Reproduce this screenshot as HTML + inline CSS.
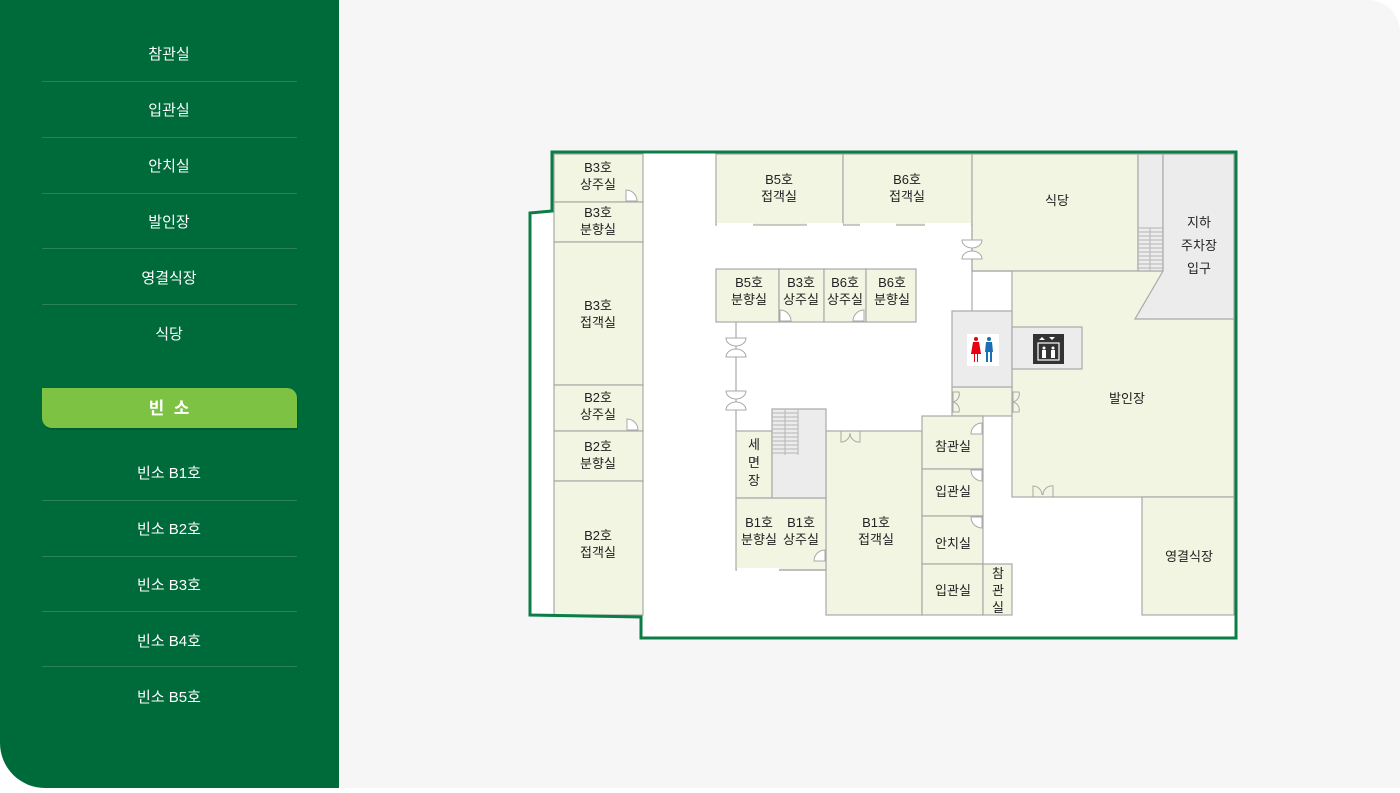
<!DOCTYPE html>
<html><head><meta charset="utf-8">
<style>
html,body{margin:0;padding:0;background:#fff;}
body{width:1400px;height:788px;overflow:hidden;position:relative;font-family:"Liberation Sans","Noto Sans CJK KR",sans-serif;}
svg text{font-family:"Liberation Sans","Noto Sans CJK KR",sans-serif;}
</style></head><body>
<svg width="1400" height="788" viewBox="0 0 1400 788" xmlns="http://www.w3.org/2000/svg">
<rect x="0" y="0" width="1400" height="788" fill="#fff"/>
<path d="M300 0 H1368 A32 32 0 0 1 1400 32 V788 H300 Z" fill="#f6f6f6"/>
<path d="M0 0 H339 V788 H45 A45 45 0 0 1 0 743 Z" fill="#006b3a"/>
<g fill="#fff" font-size="15" text-anchor="middle">
<text x="169" y="59">참관실</text>
<text x="169" y="115">입관실</text>
<text x="169" y="171">안치실</text>
<text x="169" y="227">발인장</text>
<text x="169" y="283">영결식장</text>
<text x="169" y="339">식당</text>
<text x="169" y="478">빈소 B1호</text>
<text x="169" y="534">빈소 B2호</text>
<text x="169" y="590">빈소 B3호</text>
<text x="169" y="646">빈소 B4호</text>
<text x="169" y="702">빈소 B5호</text>
</g>
<g stroke="#2a8256" stroke-width="1">
<line x1="42" y1="81.5" x2="297" y2="81.5"/><line x1="42" y1="137.5" x2="297" y2="137.5"/>
<line x1="42" y1="193.5" x2="297" y2="193.5"/><line x1="42" y1="248.5" x2="297" y2="248.5"/>
<line x1="42" y1="304.5" x2="297" y2="304.5"/>
<line x1="42" y1="500.5" x2="297" y2="500.5"/><line x1="42" y1="556.5" x2="297" y2="556.5"/>
<line x1="42" y1="611.5" x2="297" y2="611.5"/><line x1="42" y1="666.5" x2="297" y2="666.5"/>
</g>
<path d="M43 390 H288 A10 10 0 0 1 298 400 V430 H53 A10 10 0 0 1 43 420 Z" fill="#00461f" opacity="0.4"/>
<path d="M42 388 H287 A10 10 0 0 1 297 398 V428 H52 A10 10 0 0 1 42 418 Z" fill="#7dc242"/>
<text x="169" y="414" fill="#fff" font-size="17" font-weight="bold" text-anchor="middle">빈 &#160;소</text>

<path d="M552 152 H1236 V638 H641 V617 L530 615 V213 L552 211 Z" fill="#fff"/>
<g fill="#f1f5e1" stroke="#a9a9a9" stroke-width="1.2">
<rect x="554" y="154" width="89" height="48"/>
<rect x="554" y="202" width="89" height="40"/>
<rect x="554" y="242" width="89" height="143"/>
<rect x="554" y="385" width="89" height="46"/>
<rect x="554" y="431" width="89" height="50"/>
<rect x="554" y="481" width="89" height="134"/>
<rect x="716" y="154" width="127" height="71"/>
<rect x="843" y="154" width="129" height="71"/>
<rect x="972" y="154" width="166" height="117"/>
<rect x="716" y="269" width="63" height="53"/>
<rect x="779" y="269" width="45" height="53"/>
<rect x="824" y="269" width="42" height="53"/>
<rect x="866" y="269" width="50" height="53"/>
<rect x="1012" y="271" width="222" height="226"/>
<rect x="952" y="387" width="60" height="29"/>
<rect x="1142" y="497" width="92" height="118"/>
<rect x="826" y="431" width="96" height="184"/>
<rect x="922" y="416" width="61" height="53"/>
<rect x="922" y="469" width="61" height="47"/>
<rect x="922" y="516" width="61" height="48"/>
<rect x="922" y="564" width="61" height="51"/>
<rect x="983" y="564" width="29" height="51"/>
<rect x="736" y="431" width="36" height="67"/>
<path d="M736 570 V498 H826 V570 Z"/>
</g>
<g fill="#ececec" stroke="#a9a9a9" stroke-width="1.2">
<rect x="1138" y="154" width="25" height="117"/>
<path d="M1163 154 H1234 V319 H1135 L1163 271 Z"/>
<rect x="952" y="311" width="60" height="76"/>
<rect x="1012" y="327" width="70" height="42"/>
<rect x="772" y="409" width="54" height="89"/>
</g>
<g fill="#fff">
<rect x="717" y="223" width="36" height="4"/><rect x="807" y="223" width="36" height="4"/><rect x="860" y="223" width="36" height="4"/><rect x="925" y="223" width="46" height="4"/>
<rect x="737" y="568" width="42" height="4"/>
</g>
<g stroke="#b5b5b5" stroke-width="1">
<line x1="1138" y1="228" x2="1163" y2="228"/><line x1="1138" y1="232" x2="1163" y2="232"/><line x1="1138" y1="236" x2="1163" y2="236"/><line x1="1138" y1="240" x2="1163" y2="240"/><line x1="1138" y1="244" x2="1163" y2="244"/><line x1="1138" y1="248" x2="1163" y2="248"/><line x1="1138" y1="252" x2="1163" y2="252"/><line x1="1138" y1="256" x2="1163" y2="256"/><line x1="1138" y1="260" x2="1163" y2="260"/><line x1="1138" y1="264" x2="1163" y2="264"/><line x1="1138" y1="268" x2="1163" y2="268"/>
<line x1="1150" y1="228" x2="1150" y2="271"/>
<line x1="772" y1="413" x2="798" y2="413"/><line x1="772" y1="417" x2="798" y2="417"/><line x1="772" y1="421" x2="798" y2="421"/><line x1="772" y1="425" x2="798" y2="425"/><line x1="772" y1="429" x2="798" y2="429"/><line x1="772" y1="433" x2="798" y2="433"/><line x1="772" y1="437" x2="798" y2="437"/><line x1="772" y1="441" x2="798" y2="441"/><line x1="772" y1="445" x2="798" y2="445"/><line x1="772" y1="449" x2="798" y2="449"/><line x1="772" y1="453" x2="798" y2="453"/>
<line x1="785" y1="409" x2="785" y2="455"/>
<line x1="798" y1="409" x2="798" y2="455"/>
</g>
<g stroke="#a9a9a9" stroke-width="1.2" fill="none">
<line x1="736" y1="322" x2="736" y2="431"/>
<line x1="972" y1="225" x2="972" y2="311"/>
<line x1="972" y1="271" x2="1012" y2="271"/>
<line x1="779" y1="570" x2="826" y2="570"/>
</g>
<g fill="#fff" stroke="#a9a9a9" stroke-width="1">
<path d="M626 201 V190 A11 11 0 0 1 637 201 Z"/>
<path d="M627 430 V419 A11 11 0 0 1 638 430 Z"/>
<path d="M780 321 V310 A11 11 0 0 1 791 321 Z"/>
<path d="M864 321 V310 A11 11 0 0 0 853 321 Z"/>
<path d="M825 561 V550 A11 11 0 0 0 814 561 Z"/>
<path d="M982 434 V423 A11 11 0 0 0 971 434 Z"/>
<path d="M982 470 V481 A11 11 0 0 1 971 470 Z"/>
<path d="M982 517 V528 A11 11 0 0 1 971 517 Z"/>
<path d="M726 338 A10 8 0 0 0 746 338 Z M726 357 A10 8 0 0 1 746 357 Z"/>
<path d="M726 391 A10 8 0 0 0 746 391 Z M726 410 A10 8 0 0 1 746 410 Z"/>
<path d="M962 240 A10 8 0 0 0 982 240 Z M962 259 A10 8 0 0 1 982 259 Z"/>
<path d="M953 392 H959 A8 8 0 0 1 953 402 Z M953 412 H959 A8 8 0 0 0 953 402 Z" fill="none"/>
<path d="M1013 392 H1019 A8 8 0 0 1 1013 402 Z M1013 412 H1019 A8 8 0 0 0 1013 402 Z" fill="none"/>
<path d="M841 431 V442 A9 9 0 0 0 850 433 M860 431 V442 A9 9 0 0 1 850 433" fill="none"/>
<path d="M1033 497 V486 A9 9 0 0 1 1042 495 M1053 497 V486 A9 9 0 0 0 1043 495" fill="none"/>
</g>
<rect x="967" y="334" width="32" height="32" fill="#fff"/>
<g fill="#e60012"><circle cx="976" cy="339" r="2"/><path d="M973 342 H979 L981 354 H978 V362 H977 V354 H975 V362 H974 V354 H971 Z"/></g>
<g fill="#1c6fb5"><circle cx="989" cy="339" r="2"/><path d="M986 342 H992 L993 352 H992 V362 H990 V352 H988 V362 H986 V352 H985 Z"/></g>
<rect x="1033" y="334" width="31" height="30" fill="#333"/>
<rect x="1038" y="343" width="21" height="17" fill="none" stroke="#fff" stroke-width="1.2"/>
<g fill="#fff"><path d="M1042 337 L1045 340 H1039 Z"/><path d="M1052 340 L1055 337 H1049 Z"/><circle cx="1044" cy="348" r="1.5"/><rect x="1042" y="350" width="4" height="8"/><circle cx="1053" cy="348" r="1.5"/><rect x="1051" y="350" width="4" height="8"/></g>
<path d="M552 152 H1236 V638 H641 V617 L530 615 V213 L552 211 Z" fill="none" stroke="#0b7d46" stroke-width="3"/>
<g fill="#222" font-size="13" text-anchor="middle">
<text x="598" y="172">B3호</text><text x="598" y="189">상주실</text>
<text x="598" y="217">B3호</text><text x="598" y="234">분향실</text>
<text x="598" y="310">B3호</text><text x="598" y="327">접객실</text>
<text x="598" y="402">B2호</text><text x="598" y="419">상주실</text>
<text x="598" y="451">B2호</text><text x="598" y="468">분향실</text>
<text x="598" y="540">B2호</text><text x="598" y="557">접객실</text>
<text x="779" y="184">B5호</text><text x="779" y="201">접객실</text>
<text x="907" y="184">B6호</text><text x="907" y="201">접객실</text>
<text x="1057" y="205">식당</text>
<text x="1199" y="227">지하</text><text x="1199" y="250">주차장</text><text x="1199" y="273">입구</text>
<text x="749" y="287">B5호</text><text x="749" y="304">분향실</text>
<text x="801" y="287">B3호</text><text x="801" y="304">상주실</text>
<text x="845" y="287">B6호</text><text x="845" y="304">상주실</text>
<text x="892" y="287">B6호</text><text x="892" y="304">분향실</text>
<text x="1127" y="403">발인장</text>
<text x="754" y="449">세</text><text x="754" y="467">면</text><text x="754" y="485">장</text>
<text x="759" y="527">B1호</text><text x="759" y="544">분향실</text>
<text x="801" y="527">B1호</text><text x="801" y="544">상주실</text>
<text x="876" y="527">B1호</text><text x="876" y="544">접객실</text>
<text x="953" y="451">참관실</text>
<text x="953" y="496">입관실</text>
<text x="953" y="548">안치실</text>
<text x="953" y="595">입관실</text>
<text x="998" y="578">참</text><text x="998" y="595">관</text><text x="998" y="612">실</text>
<text x="1189" y="561">영결식장</text>
</g>
</svg>
</body></html>
